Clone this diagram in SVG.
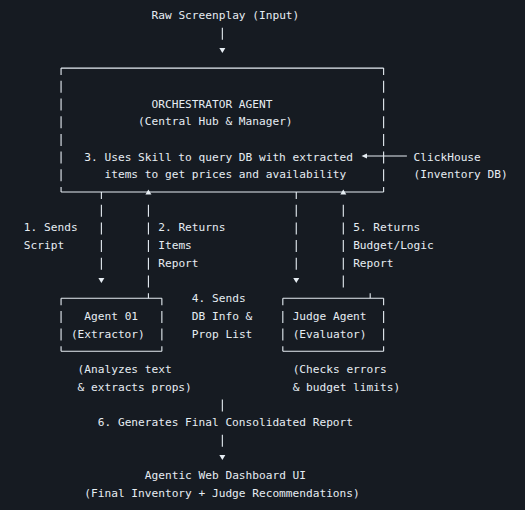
<svg xmlns="http://www.w3.org/2000/svg" width="525" height="510" viewBox="0 0 525 510">
<style>
text{font-family:"DejaVu Sans Mono","Liberation Mono",monospace;font-size:11.16px;fill:#e6edf3}
.h{stroke:#e6edf3;stroke-width:1.1;fill:none}
.v0{stroke:#e6edf3;stroke-width:1.1;fill:none;stroke-dasharray:12 5.7}
.v5{stroke:#e6edf3;stroke-width:1.1;fill:none;stroke-dasharray:12 5.7;stroke-dashoffset:5}
.tri{fill:#e6edf3}
</style>
<rect width="525" height="510" fill="#161b22"/>
<g id="connectors">
  <path class="h" d="M222.34 27.7V39.7"/>
  <polygon class="tri" points="219.34,47.9 225.34,47.9 222.34,52.9"/>
  <path class="v5" d="M101.38 192V269.8"/>
  <polygon class="tri" points="98.38,278 104.38,278 101.38,283"/>
  <polygon class="tri" points="145.42,194.5 151.42,194.5 148.42,189.5"/>
  <path class="v0" d="M148.42 204.7V298.2"/>
  <path class="v5" d="M296.26 192V269.8"/>
  <polygon class="tri" points="293.26,278 299.26,278 296.26,283"/>
  <polygon class="tri" points="340.3,194.5 346.3,194.5 343.3,189.5"/>
  <path class="v0" d="M343.3 204.7V287.5"/>
  <path class="h" d="M370.18 293.2V298.2"/>
  <path class="h" d="M367 156H406.9"/>
  <polygon class="tri" points="361.5,156 367,153.5 367,158.5"/>
  <path class="h" d="M222.34 399.4V411.4M222.34 434.8V446.8"/>
  <polygon class="tri" points="219.34,455 225.34,455 222.34,460"/>
  <text x="23.86" y="231.4">1. Sends</text>
  <text x="23.86" y="249.1">Script</text>
  <text x="158.26" y="231.4">2. Returns</text>
  <text x="158.26" y="249.1">Items</text>
  <text x="158.26" y="266.8">Report</text>
  <text x="353.14" y="231.4">5. Returns</text>
  <text x="353.14" y="249.1">Budget/Logic</text>
  <text x="353.14" y="266.8">Report</text>
  <text x="191.86" y="302.2">4. Sends</text>
  <text x="191.86" y="319.9">DB Info &amp;</text>
  <text x="191.86" y="337.6">Prop List</text>
  <text x="97.78" y="426.1">6. Generates Final Consolidated Report</text>
</g>
<g id="node-input">
  <text x="151.54" y="19">Raw Screenplay (Input)</text>
</g>
<g id="node-orchestrator">
  <path class="h" d="M61.06 68.1H383.62M61.06 192H383.62"/>
  <path class="v5" d="M61.06 68.1V192M383.62 68.1V192"/>
  <text x="151.54" y="107.5">ORCHESTRATOR AGENT</text>
  <text x="138.1" y="125.2">(Central Hub &amp; Manager)</text>
  <text x="84.34" y="160.6">3. Uses Skill to query DB with extracted</text>
  <text x="104.5" y="178.3">items to get prices and availability</text>
</g>
<g id="node-clickhouse">
  <text x="413.62" y="160.6">ClickHouse</text>
  <text x="413.62" y="178.3">(Inventory DB)</text>
</g>
<g id="node-agent01">
  <path class="h" d="M61.06 298.2H161.86M61.06 351.3H161.86"/>
  <path class="v5" d="M61.06 298.2V351.3M161.86 298.2V351.3"/>
  <text x="84.34" y="319.9">Agent 01</text>
  <text x="70.9" y="337.6">(Extractor)</text>
  <text x="77.62" y="373">(Analyzes text</text>
  <text x="77.62" y="390.7">&amp; extracts props)</text>
</g>
<g id="node-judge">
  <path class="h" d="M282.82 298.2H383.62M282.82 351.3H383.62"/>
  <path class="v5" d="M282.82 298.2V351.3M383.62 298.2V351.3"/>
  <text x="292.66" y="319.9">Judge Agent</text>
  <text x="292.66" y="337.6">(Evaluator)</text>
  <text x="292.66" y="373">(Checks errors</text>
  <text x="292.66" y="390.7">&amp; budget limits)</text>
</g>
<g id="node-dashboard">
  <text x="144.82" y="479.2">Agentic Web Dashboard UI</text>
  <text x="84.34" y="496.9">(Final Inventory + Judge Recommendations)</text>
</g>
</svg>
